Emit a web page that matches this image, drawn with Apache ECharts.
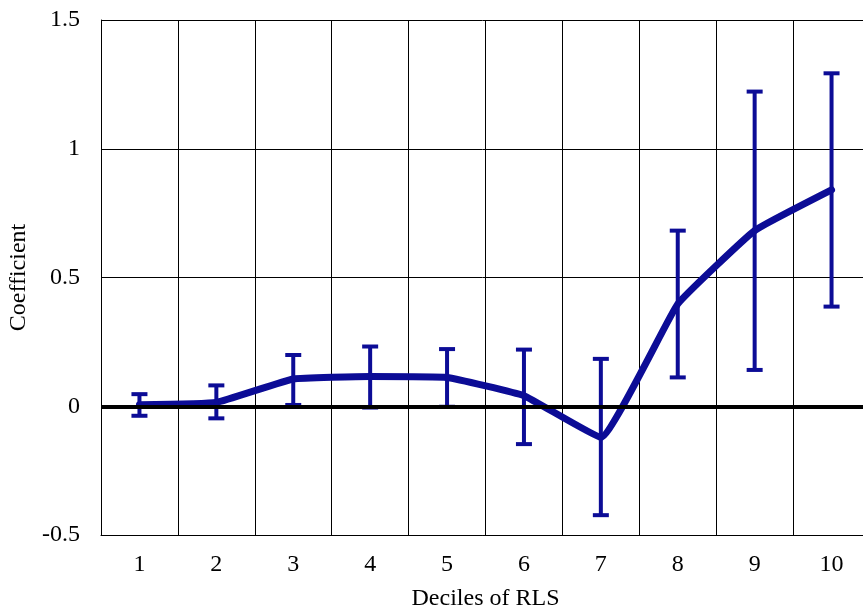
<!DOCTYPE html>
<html>
<head>
<meta charset="utf-8">
<script src="https://cdn.jsdelivr.net/npm/echarts@6/dist/echarts.min.js"></script>
<style>
  html, body {margin: 0; padding: 0; background: #fff;}
  #main {width: 863px; height: 612px;}
</style>
</head>
<body>
<div id="main"></div>
<script>
// deciles and coefficient estimates
var deciles = ["1", "2", "3", "4", "5", "6", "7", "8", "9", "10"];
var coef    = [0.006, 0.015, 0.106, 0.116, 0.112, 0.041, -0.121, 0.397, 0.682, 0.840];
var lower   = [-0.037, -0.047, 0.005, -0.005, -0.002, -0.147, -0.423, 0.112, 0.141, 0.387];
var upper   = [0.047, 0.081, 0.199, 0.232, 0.222, 0.220, 0.184, 0.682, 1.222, 1.293];

var blue = "#0c0c96";
var font = "Liberation Serif";

var bars = deciles.map(function(d, i) {return [i, lower[i], upper[i]]});

var chart = echarts.init(document.getElementById("main"), null, {renderer: "canvas"});
chart.setOption({
    animation: false,
    grid: {left: 101, right: -7, top: 20, bottom: 77, outerBoundsMode: "none", containLabel: false},
    xAxis: {
        type: "category", data: deciles, boundaryGap: true,
        name: "Deciles of RLS", nameLocation: "middle", nameGap: 52,
        nameTextStyle: {fontFamily: font, fontSize: 24, color: "#000"},
        axisLine: {onZero: false, lineStyle: {color: "#000", width: 1}},
        axisTick: {show: false},
        axisLabel: {fontFamily: font, fontSize: 24, color: "#000", margin: 18},
        splitLine: {show: true, lineStyle: {color: "#000", width: 1}}
    },
    yAxis: {
        type: "value", min: -0.5, max: 1.5, interval: 0.5,
        name: "Coefficient", nameLocation: "middle", nameGap: 68,
        nameTextStyle: {fontFamily: font, fontSize: 24, color: "#000"},
        axisLine: {show: true, lineStyle: {color: "#000", width: 1}},
        axisTick: {show: false},
        axisLabel: {fontFamily: font, fontSize: 24, color: "#000", margin: 21},
        splitLine: {show: true, lineStyle: {color: "#000", width: 1}}
    },
    series: [{
        type: "line", data: coef, smooth: 0.1,
        symbol: "none",
        lineStyle: {color: blue, width: 7, cap: "round", join: "round"},
        markLine: {
            silent: true, symbol: "none", label: {show: false},
            lineStyle: {color: "#000", width: 4, type: "solid"},
            data: [{yAxis: 0}]
        },
        z: 3
    }, {
        type: "custom", data: bars, z: 4,
        renderItem: function(params, api) {
            var x = api.value(0);
            var lo = api.coord([x, api.value(1)]);
            var hi = api.coord([x, api.value(2)]);
            var w = 8;
            var st = {stroke: blue, lineWidth: 4};
            return {type: "group", children: [
                {type: "line", shape: {x1: lo[0], y1: lo[1], x2: hi[0], y2: hi[1]}, style: st},
                {type: "line", shape: {x1: lo[0]-w, y1: lo[1], x2: lo[0]+w, y2: lo[1]}, style: st},
                {type: "line", shape: {x1: hi[0]-w, y1: hi[1], x2: hi[0]+w, y2: hi[1]}, style: st}
            ]};
        }
    }]
});
</script>
</body>
</html>
